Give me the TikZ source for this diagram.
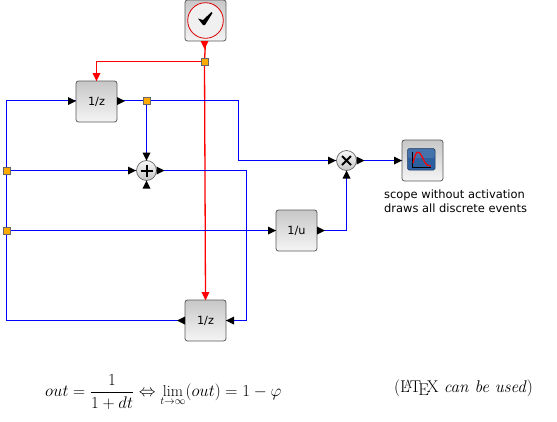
\documentclass[tikz,border=0pt]{standalone}
\usepackage{fontspec}
\newfontfamily\labelfont{DejaVu Sans}
\usetikzlibrary{backgrounds}
\definecolor{wireblue}{RGB}{0,0,255}
\definecolor{splitorange}{RGB}{255,170,0}
\definecolor{iconblue}{RGB}{45,95,160}
\tikzset{
  block/.style={draw=black!65,line width=0.8pt,rounded corners=2.5pt,minimum width=41pt,minimum height=41pt,inner sep=0pt,top color=black!22,bottom color=black!4,font=\labelfont\fontsize{11.3}{13}\selectfont},
  opcircle/.style={circle,draw=black!60,line width=0.7pt,minimum size=20pt,inner sep=0pt,top color=black!3,bottom color=black!22},
  splitnode/.style={draw=black!60,line width=0.7pt,fill=splitorange,minimum size=7pt,inner sep=0pt},
  wire/.style={draw=wireblue,line width=1.1pt},
  evwire/.style={draw=red,line width=1.3pt},
  porttip/.style={fill=black},
  evtip/.style={fill=red},
}
\newcommand{\porttriangle}[3][porttip]{%
  \path[#1] (#2) ++(#3+90:4pt) -- ++(#3-90:8pt) -- ([shift={(#3:8pt)}]#2) -- cycle;}
\begin{document}
\begin{tikzpicture}[x=1pt,y=-1pt]
\useasboundingbox (0,0) rectangle (557,421);
\node[block] (clock) at (205.5,20.5) {};
\node[block] (zt) at (96.5,101.5) {1/z};
\node[block] (zb) at (205.5,320.5) {1/z};
\node[block] (inv) at (296.5,230.5) {1/u};
\node[block] (scope) at (422.5,160.5) {};
\node[opcircle] (sum) at (146.5,170.5) {};
\node[opcircle] (mul) at (346.5,160.5) {};
\node[splitnode] (sr) at (204.5,61.5) {};
\node[splitnode] (s1) at (146.5,100.5) {};
\node[splitnode] (s2) at (6.5,170.5) {};
\node[splitnode] (s3) at (6.5,230.5) {};
\coordinate (c1) at (238.5,100.5);
\coordinate (c2) at (6.5,320.5);
\coordinate (c3) at (246.5,170.5);
\coordinate (c4) at (346.5,230.5);
\begin{pgfonlayer}{background}
\draw[evwire] (clock.south) -- (sr.center);
\draw[evwire] (sr.center) -- (zb.north);
\draw[evwire] (sr.center) -| (zt.north);
\draw[wire] (zt.east |- s1) -- (s1.center) -- (c1) |- (mul.west);
\draw[wire] (s1.center) -- (sum.north);
\draw[wire] (zb.west) -- (c2) |- (zt.west |- s1);
\draw[wire] (s2.center) -- (sum.west);
\draw[wire] (s3.center) -- (inv.west);
\draw[wire] (sum.east) -- (c3) |- (zb.east);
\draw[wire] (inv.east) -- (c4) -- (mul.south);
\draw[wire] (mul.east) -- (scope.west);
\end{pgfonlayer}
% ports
\porttriangle{68,101}{0}
\porttriangle{117,101}{0}
\porttriangle{185,320.5}{180}
\porttriangle{234,320.5}{180}
\porttriangle{268,230.5}{0}
\porttriangle{317,230.5}{0}
\porttriangle{394,160.5}{0}
\porttriangle{128,170.5}{0}
\porttriangle{156.5,170.5}{0}
\porttriangle{146.5,152.5}{-90}
\porttriangle{146.5,188.5}{90}
\porttriangle{328,160.5}{0}
\porttriangle{356.5,160.5}{0}
\porttriangle{346.5,178.5}{90}
\porttriangle[evtip]{204.5,41}{-90}
\porttriangle[evtip]{96.5,73}{-90}
\porttriangle[evtip]{205.5,292}{-90}
% sum and product marks
\draw[line width=2pt] (140.5,170.5) -- (152.5,170.5) (146.5,164.5) -- (146.5,176.5);
\draw[line width=1.8pt] (342,156) -- (351,165) (351,156) -- (342,165);
% clock icon
\draw[red!85!black,line width=0.8pt,fill=black!6] (205.5,20.5) circle (17.8pt);
\fill[black] (198,18.5) -- (203,20) -- (211.5,12) -- (212.5,13) -- (205,25) -- (203,25) -- cycle;
% scope icon
\fill[iconblue,rounded corners=1.5pt,draw=black!40!iconblue,line width=0.5pt] (407.5,148.5) rectangle (435,170);
\fill[white,opacity=0.12,rounded corners=1.5pt] (408,149) rectangle (434.5,158);
\draw[black,line width=0.8pt] (412.5,152) -- (412.5,167) -- (431,167);
\draw[red,line width=1.2pt] (413,163) .. controls (416,150) and (418,151) .. (420.5,154) .. controls (424,159) and (425,167) .. (431,166);
% texts
\node[anchor=west,inner sep=0pt,align=left,font=\labelfont\fontsize{11.45}{14}\selectfont] (note) at (384,201) {scope without activation\\draws all discrete events};
\node[anchor=base west,inner sep=0pt,font=\fontsize{16.2}{19}\selectfont] (formula) at (45,396.5) {\scalebox{0.975}{$\displaystyle out=\frac{1}{1+dt}\Leftrightarrow\lim_{t\to\infty}(out)=1-\varphi$}};
\node[anchor=base east,inner sep=0pt,font=\fontsize{17}{20}\selectfont] (latexnote) at (533,392) {(\LaTeX\ \textit{can be used})};
\end{tikzpicture}
\end{document}
